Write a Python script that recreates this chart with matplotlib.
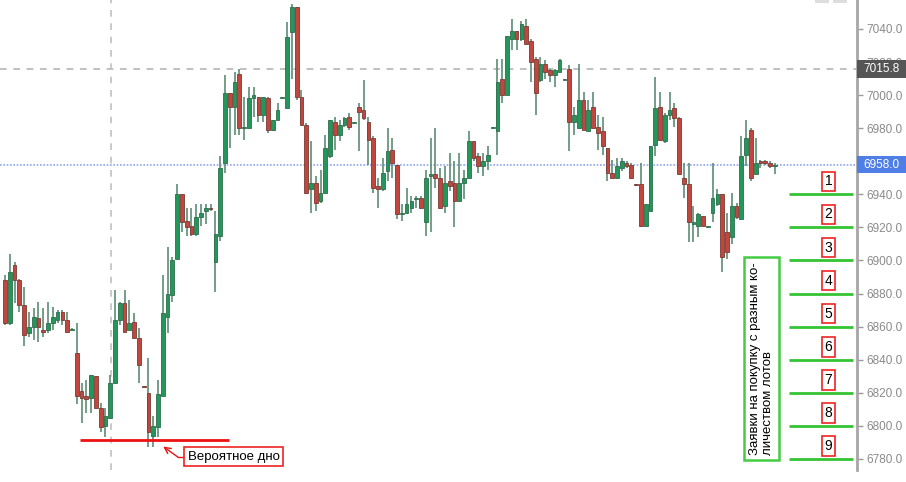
import numpy as np
import matplotlib
matplotlib.use("Agg")
import matplotlib.pyplot as plt
from matplotlib.patches import Rectangle
from matplotlib.transforms import blended_transform_factory

plt.rcParams['font.family'] = ['Liberation Sans', 'DejaVu Sans']

# OHLC (162 candles, left to right)
opens = [6888, 6862, 6897, 6888, 6873, 6856, 6860, 6865, 6858, 6858,
         6862, 6864, 6869, 6864, 6858, 6844, 6821, 6818, 6817, 6830,
         6811, 6800, 6805, 6826, 6864, 6874, 6858, 6863, 6853, 6824,
         6820, 6794, 6799, 6818, 6866, 6879, 6901, 6940, 6924, 6921,
         6916, 6926, 6930, 6932, 6899, 6915, 6959, 7001, 6993, 7013,
         6980, 6980, 6998, 6999, 6988, 6998, 6979, 6985, 6998, 6992,
         7038, 7053, 6999, 6982, 6943, 6947, 6936, 6941, 6963, 6984,
         6976, 6982, 6987, 6983, 6993, 6991, 6984, 6974, 6945, 6943,
         6954, 6967, 6958, 6928, 6929, 6932, 6937, 6938, 6923, 6951,
         6952, 6950, 6933, 6948, 6947, 6936, 6947, 6950, 6972, 6963,
         6957, 6960, 6980, 6978, 7010, 7000, 7034, 7039, 7034, 7042,
         7033, 7022, 7009, 7019, 7015, 7012, 7014, 7009, 7016, 6984,
         6980, 6997, 6978, 6993, 6981, 6978, 6968, 6953, 6950, 6956,
         6959, 6958, 6946, 6946, 6921, 6930, 6970, 6993, 6972, 6988,
         6992, 6986, 6950, 6946, 6922, 6921, 6927, 6920, 6929, 6934,
         6940, 6917, 6914, 6933, 6925, 6964, 6979, 6952, 6960, 6960,
         6959, 6957]
highs = [6891, 6904, 6899, 6889, 6884, 6869, 6871, 6875, 6871, 6875,
         6872, 6870, 6870, 6869, 6859, 6862, 6826, 6828, 6831, 6830,
         6814, 6811, 6831, 6882, 6875, 6882, 6876, 6868, 6859, 6824,
         6841, 6806, 6828, 6891, 6908, 6902, 6946, 6940, 6932, 6932,
         6934, 6934, 6934, 6934, 6930, 6963, 7012, 7001, 7014, 7016,
         6999, 7005, 7005, 6999, 6999, 6999, 6985, 6995, 6999, 7044,
         7055, 7053, 7003, 6983, 6972, 6951, 6955, 6976, 6985, 6987,
         6985, 6987, 6989, 6984, 6995, 7009, 6987, 6975, 6950, 6962,
         6980, 6974, 6958, 6934, 6944, 6939, 6939, 6939, 6955, 6974,
         6980, 6956, 6957, 6965, 6960, 6965, 6955, 6978, 6972, 6965,
         6965, 6969, 6981, 7022, 7022, 7036, 7046, 7039, 7045, 7046,
         7034, 7023, 7023, 7021, 7016, 7016, 7022, 7010, 7018, 6993,
         7019, 7002, 6997, 7002, 6988, 6987, 6968, 6961, 6962, 6962,
         6960, 6959, 6946, 6959, 6934, 6969, 7011, 7002, 6989, 7002,
         6995, 6987, 6959, 6959, 6933, 6929, 6927, 6921, 6959, 6943,
         6940, 6929, 6941, 6935, 6975, 6985, 6980, 6974, 6961, 6961,
         6960, 6959]
lows = [6861, 6861, 6874, 6869, 6848, 6854, 6852, 6851, 6854, 6856,
        6858, 6862, 6861, 6857, 6858, 6813, 6802, 6808, 6808, 6811,
        6796, 6793, 6804, 6826, 6861, 6857, 6858, 6853, 6826, 6823,
        6787, 6787, 6793, 6818, 6856, 6875, 6901, 6917, 6915, 6915,
        6915, 6921, 6922, 6930, 6881, 6912, 6953, 6968, 6976, 6976,
        6973, 6980, 6987, 6984, 6984, 6977, 6978, 6985, 6998, 6992,
        7010, 6997, 6982, 6940, 6929, 6930, 6935, 6941, 6962, 6967,
        6972, 6981, 6979, 6983, 6966, 6985, 6958, 6941, 6932, 6942,
        6948, 6950, 6925, 6924, 6928, 6929, 6932, 6932, 6915, 6917,
        6944, 6932, 6929, 6942, 6920, 6936, 6937, 6950, 6960, 6953,
        6951, 6955, 6980, 6964, 6995, 7000, 7027, 7027, 7033, 7031,
        7008, 6988, 7008, 7010, 7008, 7005, 7014, 7009, 6966, 6976,
        6980, 6979, 6978, 6980, 6967, 6964, 6948, 6950, 6949, 6954,
        6956, 6949, 6945, 6920, 6920, 6930, 6963, 6973, 6971, 6985,
        6981, 6952, 6938, 6911, 6911, 6914, 6921, 6920, 6923, 6933,
        6893, 6901, 6910, 6925, 6925, 6957, 6948, 6952, 6956, 6958,
        6956, 6952]
closes = [6862, 6893, 6888, 6873, 6855, 6860, 6866, 6860, 6857, 6862,
          6866, 6869, 6864, 6857, 6858.5, 6818, 6817, 6816, 6831, 6811,
          6799, 6806, 6826, 6864, 6874, 6857, 6862, 6853, 6837, 6823.5,
          6796, 6800, 6819, 6868, 6880, 6900, 6940, 6923, 6920, 6916,
          6926, 6929, 6932, 6931, 6916, 6956, 7001, 6993, 7008, 6980,
          6981, 6998, 7000, 6988, 6999, 6979, 6985, 6991, 6998.5, 7035,
          7053, 6999, 6982, 6941, 6947, 6935, 6941, 6968, 6985, 6976,
          6982, 6986, 6981, 6983.5, 6990, 6986, 6973, 6944, 6943, 6953,
          6966, 6959, 6928, 6929, 6934, 6936, 6938, 6932, 6950, 6952,
          6950, 6932, 6947, 6945, 6936, 6947, 6950, 6972, 6962, 6957,
          6960, 6964, 6980.5, 7008, 7000, 7036, 7039, 7034, 7043, 7031,
          7020, 7001, 7019, 7014, 7012, 7015, 7021, 7009.5, 6984, 6988,
          6997, 6979, 6991, 6980, 6977, 6969, 6953, 6950, 6957, 6960,
          6957, 6950, 6945.5, 6921, 6934, 6969, 6992, 6973, 6988, 6991,
          6986, 6952, 6946, 6923, 6923, 6928, 6921, 6920.5, 6938, 6940,
          6902, 6905, 6933, 6926, 6963, 6974, 6950, 6959, 6959, 6959,
          6957, 6958]

# 6960.0 sits fully under the last-price tag, so it is left out
y_ticks = [6780, 6800, 6820, 6840, 6860, 6880, 6900, 6920, 6940, 6980, 7000, 7020, 7040]
cross_price = 7015.8
last_price = 6958.0
bottom_price = 6791.5
order_levels = [6940, 6920, 6900, 6880, 6860, 6840, 6820, 6800, 6780]
order_labels = ['1', '2', '3', '4', '5', '6', '7', '8', '9']

o = np.array(opens, float)
h = np.array(highs, float)
l = np.array(lows, float)
c = np.array(closes, float)
x = np.arange(len(o))

up = c >= o
body_col = np.where(up, '#23975a', '#c0463e')
edge_col = np.where(up, '#2f6e4c', '#7a3a33')

fig = plt.figure(figsize=(9.06, 4.82), dpi=100)
ax = fig.add_axes([0, 12 / 482, 857 / 906, 470 / 482])

# crosshair / price lines
ax.axhline(cross_price, color='#b5b5b5', lw=1.2, ls=(0, (4, 4)), zorder=0)
ax.axhline(last_price, color='#8fa6ee', lw=1.2, ls=(0, (1, 1)), zorder=0)
ax.axvline(22.2, color='#c0c0c0', lw=1.2, ls=(0, (4, 4)), zorder=0)

# candles
ax.vlines(x, l, h, color='#5e8c74', lw=1.2, zorder=2)
body_h = np.maximum(np.abs(c - o), 0.8)
ax.bar(x, body_h, bottom=np.minimum(o, c), width=0.78, color=body_col,
       edgecolor=edge_col, linewidth=0.6, zorder=3)

# probable bottom
ax.hlines(bottom_price, 15.7, 46.9, color='#ee1111', lw=2, zorder=4)
ax.text(38.2, 6781.3, 'Вероятное дно', fontsize=9.5, ha='left', va='center', zorder=6,
        bbox=dict(boxstyle='square,pad=0.25', fc='white', ec='#ee2222', lw=1.2))
ax.plot([37.7, 36.2], [6781.0, 6781.0], color='#ee1111', lw=1, zorder=5)
ax.annotate('', xy=(33.1, 6787.5), xytext=(36.2, 6781.0), zorder=5,
            arrowprops=dict(arrowstyle='->', color='#ee1111', lw=1, mutation_scale=11,
                            shrinkA=0, shrinkB=0))

# buy orders
ax.hlines(order_levels, 164.0, 177.4, color='#33c433', lw=2, zorder=4)
for lev, lab in zip(order_levels, order_labels):
    ax.text(172.2, lev + 7.8, lab, fontsize=10, ha='center', va='center', zorder=6,
            bbox=dict(boxstyle='square,pad=0.2', fc='white', ec='#ee2222', lw=1.2))

ax.text(158.2, 6782.5, 'Заявки на покупку с разным ко-\nличеством лотов', rotation=90,
        fontsize=9.5, ha='center', va='bottom', multialignment='left', linespacing=1.1, zorder=6,
        bbox=dict(boxstyle='square,pad=0.4', fc='white', ec='#44cc44', lw=1.8))

ax.set_xlim(-1.05, 178.2)
ax.set_ylim(6773.3, 7057.5)

ax.yaxis.tick_right()
ax.set_yticks(y_ticks)
ax.set_yticklabels([f'{v:.1f}' for v in y_ticks])
ax.tick_params(axis='y', labelsize=8.5, labelcolor='#8a8a8a', color='#9a9a9a',
               length=4, width=1, pad=3)
ax.set_xticks([])
for s in ['top', 'left', 'bottom']:
    ax.spines[s].set_visible(False)
ax.spines['right'].set_color('#a6a6a6')
ax.spines['right'].set_linewidth(2)

# price tags on the axis
tr = blended_transform_factory(ax.transAxes, ax.transData)
tag_w = 49 / 857
ax.add_patch(Rectangle((1.0, cross_price - 5.2), tag_w, 10.4, transform=tr,
                       fc='#555555', ec='none', clip_on=False, zorder=7))
ax.text(1.0 + tag_w / 2, cross_price, f'{cross_price:.1f}', transform=tr, color='white',
        fontsize=8.5, ha='center', va='center', zorder=8, clip_on=False)
ax.add_patch(Rectangle((1.0, last_price - 4.9), tag_w, 9.8, transform=tr,
                       fc='#4f7fe6', ec='none', clip_on=False, zorder=7))
ax.text(1.0 + tag_w / 2, last_price, f'{last_price:.1f}', transform=tr, color='white',
        fontsize=8.5, ha='center', va='center', zorder=8, clip_on=False)

# bits of toolbar buttons peeking in at the top
fig.patches.append(Rectangle((815 / 906, 479 / 482), 14 / 906, 3 / 482,
                             transform=fig.transFigure, fc='#dddddd', ec='none'))
fig.patches.append(Rectangle((833 / 906, 479 / 482), 14 / 906, 3 / 482,
                             transform=fig.transFigure, fc='#dddddd', ec='none'))

fig.savefig('out.png', dpi=100)
